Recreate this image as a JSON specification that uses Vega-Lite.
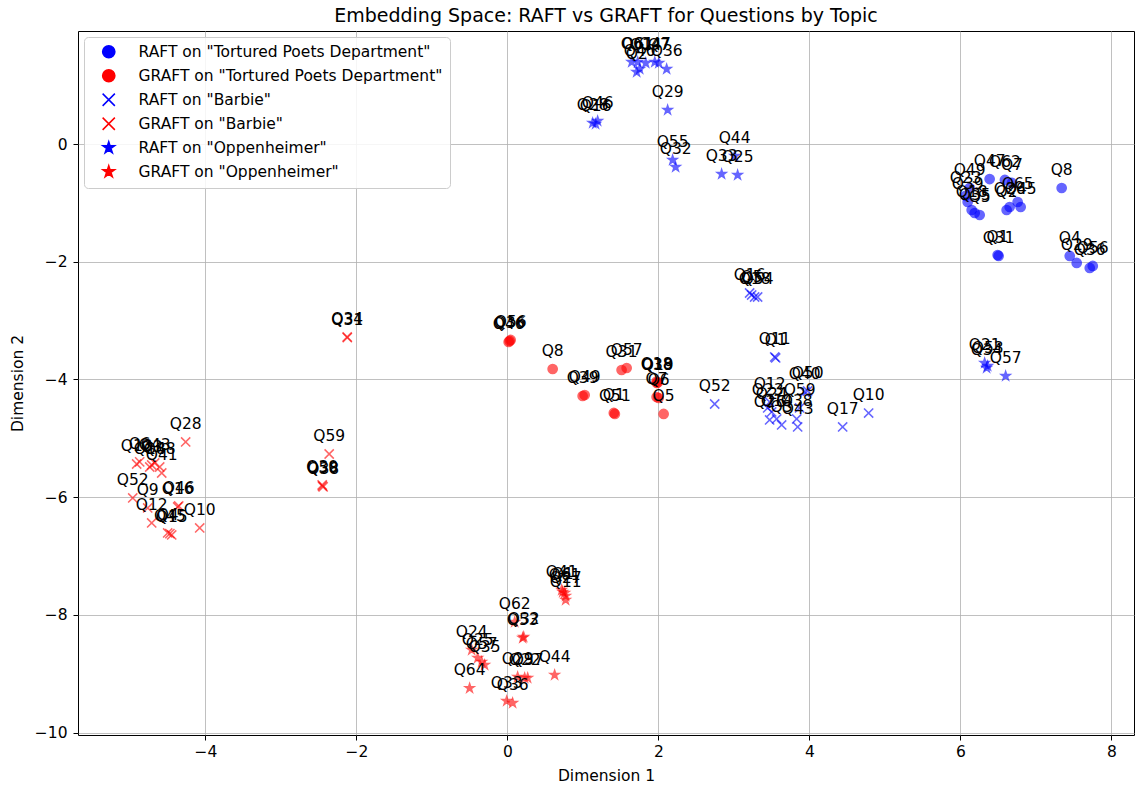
{
"$schema": "https://vega.github.io/schema/vega-lite/v6.json",
"autosize": {"type": "none"},
"padding": {"left": 78, "top": 31, "right": 1, "bottom": 52},
"width": 1056,
"height": 704,
"title": {"text": "Embedding Space: RAFT vs GRAFT for Questions by Topic", "fontSize": 19, "fontWeight": "normal", "font": "DejaVu Sans", "color": "black", "offset": 5},
"config": {
  "font": "DejaVu Sans",
  "view": {"stroke": "black", "strokeWidth": 1},
  "axis": {"labelFontSize": 15.5, "labelColor": "black", "titleFontSize": 15.5, "titleFontWeight": "normal", "titleColor": "black", "tickColor": "black", "tickSize": 5, "domain": false, "gridColor": "#b0b0b0", "gridWidth": 0.8, "labelFont": "DejaVu Sans", "titleFont": "DejaVu Sans"},
  "legend": {"orient": "top-left", "offset": 6, "padding": 7, "symbolOffset": 10, "labelOffset": 22, "labelFontSize": 15.5, "labelColor": "black", "labelFont": "DejaVu Sans", "rowPadding": 5, "symbolSize": 150, "symbolStrokeWidth": 1.5, "symbolOpacity": 1, "strokeColor": "#cccccc", "fillColor": "rgba(255,255,255,0.85)", "cornerRadius": 4, "labelLimit": 500}
},
"data": {"values": [
{"k":"A","q":"Q8","x":7.342,"y":-0.747},
{"k":"A","q":"Q1","x":6.494,"y":-1.886},
{"k":"A","q":"Q31","x":6.507,"y":-1.902},
{"k":"A","q":"Q47","x":6.388,"y":-0.595},
{"k":"A","q":"Q62","x":6.59,"y":-0.61},
{"k":"A","q":"Q7","x":6.683,"y":-0.662},
{"k":"A","q":"Q49","x":6.123,"y":-0.747},
{"k":"A","q":"Q39","x":6.097,"y":-0.985},
{"k":"A","q":"Q23","x":6.07,"y":-0.88},
{"k":"A","q":"Q18","x":6.15,"y":-1.121},
{"k":"A","q":"Q35","x":6.19,"y":-1.172},
{"k":"A","q":"Q5","x":6.256,"y":-1.206},
{"k":"A","q":"Q65","x":6.759,"y":-0.985},
{"k":"A","q":"Q26","x":6.653,"y":-1.07},
{"k":"A","q":"Q2","x":6.613,"y":-1.121},
{"k":"A","q":"Q45","x":6.799,"y":-1.07},
{"k":"A","q":"Q4","x":7.449,"y":-1.902},
{"k":"A","q":"Q29","x":7.541,"y":-2.021},
{"k":"A","q":"Q36","x":7.714,"y":-2.106},
{"k":"A","q":"Q56","x":7.754,"y":-2.072},
{"k":"E","q":"Q6","x":1.647,"y":1.393},
{"k":"E","q":"Q61","x":1.727,"y":1.393},
{"k":"E","q":"Q14","x":1.833,"y":1.376},
{"k":"E","q":"Q47","x":1.953,"y":1.393},
{"k":"E","q":"Q7","x":2.006,"y":1.376},
{"k":"E","q":"Q40","x":1.753,"y":1.274},
{"k":"E","q":"Q36","x":2.11,"y":1.274},
{"k":"E","q":"Q2","x":1.713,"y":1.223},
{"k":"E","q":"Q28","x":1.13,"y":0.357},
{"k":"E","q":"Q46","x":1.196,"y":0.391},
{"k":"E","q":"Q16","x":1.169,"y":0.34},
{"k":"E","q":"Q29","x":2.123,"y":0.578},
{"k":"E","q":"Q55","x":2.189,"y":-0.272},
{"k":"E","q":"Q32","x":2.229,"y":-0.391},
{"k":"E","q":"Q33","x":2.838,"y":-0.51},
{"k":"E","q":"Q25","x":3.05,"y":-0.527},
{"k":"E","q":"Q44","x":3.01,"y":-0.204},
{"k":"E","q":"Q21","x":6.322,"y":-3.72},
{"k":"E","q":"Q34","x":6.348,"y":-3.805},
{"k":"E","q":"Q53","x":6.362,"y":-3.771},
{"k":"E","q":"Q57","x":6.6,"y":-3.941},
{"k":"C","q":"Q16","x":3.209,"y":-2.531},
{"k":"C","q":"Q18","x":3.275,"y":-2.599},
{"k":"C","q":"Q54","x":3.315,"y":-2.599},
{"k":"C","q":"Q5","x":3.236,"y":-2.565},
{"k":"C","q":"Q11","x":3.541,"y":-3.618},
{"k":"C","q":"Q1","x":3.554,"y":-3.635},
{"k":"C","q":"Q40","x":3.938,"y":-4.213},
{"k":"C","q":"Q50","x":3.977,"y":-4.196},
{"k":"C","q":"Q52","x":2.746,"y":-4.417},
{"k":"C","q":"Q10","x":4.785,"y":-4.57},
{"k":"C","q":"Q17","x":4.441,"y":-4.807},
{"k":"C","q":"Q12","x":3.474,"y":-4.383},
{"k":"C","q":"Q23","x":3.448,"y":-4.484},
{"k":"C","q":"Q24","x":3.501,"y":-4.552},
{"k":"C","q":"Q14","x":3.567,"y":-4.671},
{"k":"C","q":"Q3","x":3.633,"y":-4.773},
{"k":"C","q":"Q38","x":3.832,"y":-4.671},
{"k":"C","q":"Q59","x":3.871,"y":-4.484},
{"k":"C","q":"Q43","x":3.845,"y":-4.807},
{"k":"C","q":"Q26","x":3.474,"y":-4.688},
{"k":"B","q":"Q36","x":0.03,"y":-3.346},
{"k":"B","q":"Q56","x":0.044,"y":-3.329},
{"k":"B","q":"Q46","x":0.017,"y":-3.363},
{"k":"B","q":"Q8","x":0.6,"y":-3.822},
{"k":"B","q":"Q39","x":0.997,"y":-4.281},
{"k":"B","q":"Q49","x":1.024,"y":-4.264},
{"k":"B","q":"Q51","x":1.424,"y":-4.586},
{"k":"B","q":"Q1","x":1.41,"y":-4.569},
{"k":"B","q":"Q31","x":1.513,"y":-3.839},
{"k":"B","q":"Q57","x":1.58,"y":-3.805},
{"k":"B","q":"Q18","x":1.977,"y":-4.035},
{"k":"B","q":"Q19","x":1.991,"y":-4.052},
{"k":"B","q":"Q38","x":1.98,"y":-4.06},
{"k":"B","q":"Q7","x":1.977,"y":-4.298},
{"k":"B","q":"Q6","x":2.004,"y":-4.315},
{"k":"B","q":"Q5","x":2.07,"y":-4.586},
{"k":"D","q":"Q28","x":-4.261,"y":-5.062},
{"k":"D","q":"Q6","x":-4.87,"y":-5.40},
{"k":"D","q":"Q13","x":-4.91,"y":-5.436},
{"k":"D","q":"Q3","x":-4.711,"y":-5.453},
{"k":"D","q":"Q43","x":-4.671,"y":-5.419},
{"k":"D","q":"Q48","x":-4.605,"y":-5.487},
{"k":"D","q":"Q41","x":-4.578,"y":-5.589},
{"k":"D","q":"Q18","x":-4.737,"y":-5.487},
{"k":"D","q":"Q52","x":-4.962,"y":-6.013},
{"k":"D","q":"Q9","x":-4.764,"y":-6.183},
{"k":"D","q":"Q12","x":-4.711,"y":-6.438},
{"k":"D","q":"Q16","x":-4.367,"y":-6.166},
{"k":"D","q":"Q46","x":-4.353,"y":-6.149},
{"k":"D","q":"Q10","x":-4.075,"y":-6.523},
{"k":"D","q":"Q4","x":-4.499,"y":-6.608},
{"k":"D","q":"Q15","x":-4.446,"y":-6.642},
{"k":"D","q":"Q45","x":-4.47,"y":-6.62},
{"k":"D","q":"Q34","x":-2.122,"y":-3.278},
{"k":"D","q":"Q31","x":-2.12,"y":-3.29},
{"k":"D","q":"Q59","x":-2.36,"y":-5.266},
{"k":"D","q":"Q30","x":-2.453,"y":-5.792},
{"k":"D","q":"Q38","x":-2.44,"y":-5.826},
{"k":"D","q":"Q58","x":-2.45,"y":-5.81},
{"k":"F","q":"Q41","x":0.719,"y":-7.576},
{"k":"F","q":"Q61","x":0.759,"y":-7.627},
{"k":"F","q":"Q1","x":0.733,"y":-7.61},
{"k":"F","q":"Q11","x":0.772,"y":-7.746},
{"k":"F","q":"Q27","x":0.772,"y":-7.678},
{"k":"F","q":"Q62","x":0.097,"y":-8.12},
{"k":"F","q":"Q53","x":0.203,"y":-8.391},
{"k":"F","q":"Q32","x":0.216,"y":-8.374},
{"k":"F","q":"Q24","x":-0.473,"y":-8.595},
{"k":"F","q":"Q25","x":-0.393,"y":-8.731},
{"k":"F","q":"Q57","x":-0.34,"y":-8.799},
{"k":"F","q":"Q35","x":-0.301,"y":-8.85},
{"k":"F","q":"Q64","x":-0.5,"y":-9.245},
{"k":"F","q":"Q29","x":0.136,"y":-9.054},
{"k":"F","q":"Q22","x":0.229,"y":-9.071},
{"k":"F","q":"Q37","x":0.269,"y":-9.071},
{"k":"F","q":"Q44","x":0.626,"y":-9.02},
{"k":"F","q":"Q33","x":-0.009,"y":-9.462},
{"k":"F","q":"Q36","x":0.07,"y":-9.496}
]},
"encoding": {
  "x": {"field": "x", "type": "quantitative", "scale": {"domain": [-5.687, 8.3], "nice": false, "zero": false}, "axis": {"values": [-4, -2, 0, 2, 4, 6, 8], "format": "d", "title": "Dimension 1", "labelPadding": 4, "titlePadding": 9}},
  "y": {"field": "y", "type": "quantitative", "scale": {"domain": [-10.04, 1.92], "nice": false, "zero": false}, "axis": {"values": [-10, -8, -6, -4, -2, 0], "format": "d", "title": "Dimension 2", "labelPadding": 6, "titlePadding": 9}}
},
"layer": [
  {"mark": {"type": "point", "filled": true, "opacity": 0.6, "strokeWidth": 1.5, "size": 85},
   "encoding": {
     "color": {"field": "k", "type": "nominal", "scale": {"domain": ["A", "B", "C", "D", "E", "F"], "range": ["#0000ff", "#ff0000", "#0000ff", "#ff0000", "#0000ff", "#ff0000"]}, "legend": {"title": null, "labelExpr": "{'A': 'RAFT on \"Tortured Poets Department\"', 'B': 'GRAFT on \"Tortured Poets Department\"', 'C': 'RAFT on \"Barbie\"', 'D': 'GRAFT on \"Barbie\"', 'E': 'RAFT on \"Oppenheimer\"', 'F': 'GRAFT on \"Oppenheimer\"'}[datum.label]"}},
     "stroke": {"field": "k", "type": "nominal", "scale": {"domain": ["A", "B", "C", "D", "E", "F"], "range": ["#0000ff", "#ff0000", "#0000ff", "#ff0000", "#0000ff", "#ff0000"]}, "legend": {"title": null, "labelExpr": "{'A': 'RAFT on \"Tortured Poets Department\"', 'B': 'GRAFT on \"Tortured Poets Department\"', 'C': 'RAFT on \"Barbie\"', 'D': 'GRAFT on \"Barbie\"', 'E': 'RAFT on \"Oppenheimer\"', 'F': 'GRAFT on \"Oppenheimer\"'}[datum.label]"}},
     "shape": {"field": "k", "type": "nominal", "scale": {"domain": ["A", "B", "C", "D", "E", "F"], "range": ["circle", "circle", "M-1,-1L1,1M-1,1L1,-1", "M-1,-1L1,1M-1,1L1,-1", "M0,-1L0.225,-0.309L0.951,-0.309L0.363,0.118L0.588,0.809L0,0.382L-0.588,0.809L-0.363,0.118L-0.951,-0.309L-0.225,-0.309Z", "M0,-1L0.225,-0.309L0.951,-0.309L0.363,0.118L0.588,0.809L0,0.382L-0.588,0.809L-0.363,0.118L-0.951,-0.309L-0.225,-0.309Z"]}, "legend": {"title": null, "labelExpr": "{'A': 'RAFT on \"Tortured Poets Department\"', 'B': 'GRAFT on \"Tortured Poets Department\"', 'C': 'RAFT on \"Barbie\"', 'D': 'GRAFT on \"Barbie\"', 'E': 'RAFT on \"Oppenheimer\"', 'F': 'GRAFT on \"Oppenheimer\"'}[datum.label]"}}
   }},
  {"mark": {"type": "text", "baseline": "alphabetic", "align": "center", "dy": -13, "fontSize": 15.5, "color": "black", "font": "DejaVu Sans"},
   "encoding": {"text": {"field": "q"}}}
]
}
